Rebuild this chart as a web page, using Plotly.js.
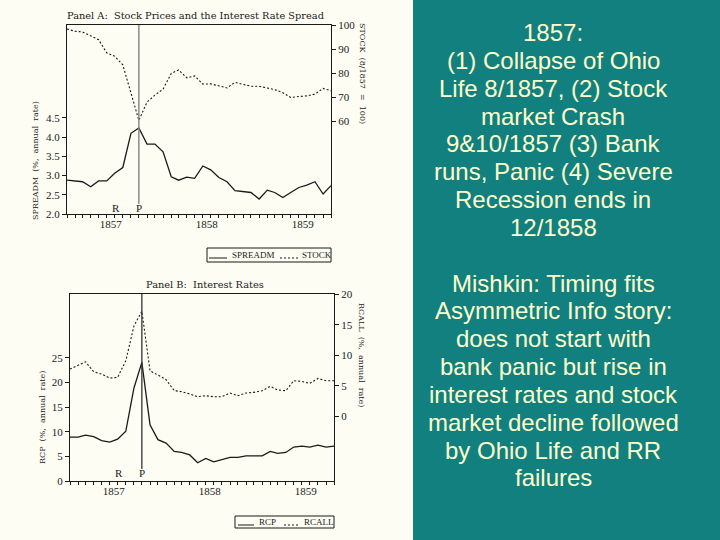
<!DOCTYPE html>
<html>
<head>
<meta charset="utf-8">
<script src="https://cdn.plot.ly/plotly-3.0.1.min.js"></script>
<style>html,body{margin:0;padding:0;background:#fdfdf3;}#chart{width:720px;height:540px;}</style>
</head>
<body>
<div id="chart"></div>
<script>
// ---- data (monthly, Jan 1857 - Oct 1859) ----
const months = ['1857-01-01','1857-02-01','1857-03-01','1857-04-01','1857-05-01','1857-06-01',
  '1857-07-01','1857-08-01','1857-09-01','1857-10-01','1857-11-01','1857-12-01',
  '1858-01-01','1858-02-01','1858-03-01','1858-04-01','1858-05-01','1858-06-01',
  '1858-07-01','1858-08-01','1858-09-01','1858-10-01','1858-11-01','1858-12-01',
  '1859-01-01','1859-02-01','1859-03-01','1859-04-01','1859-05-01','1859-06-01',
  '1859-07-01','1859-08-01','1859-09-01','1859-10-01'];
const spreadm = [2.88,2.86,2.84,2.71,2.86,2.86,3.06,3.21,4.10,4.24,3.82,3.82,3.62,2.97,2.88,2.96,
  2.93,3.25,3.15,2.95,2.84,2.61,2.58,2.56,2.39,2.62,2.56,2.43,2.56,2.69,2.75,2.84,2.52,2.74];
const stock = [98.3,97.4,97.1,95.6,93.9,88.4,87.0,83.4,72.0,60.3,67.9,70.8,73.3,79.8,81.3,78.0,
  78.8,75.4,75.5,74.5,73.8,76.1,75.4,74.5,74.5,73.7,73.1,71.8,69.8,70.2,70.5,71.2,73.6,72.6];
const rcp = [8.9,8.9,9.3,9.0,8.2,7.9,8.5,10.1,18.9,24.1,11.4,8.4,7.7,6.0,5.8,5.3,3.7,4.6,3.9,4.3,
  4.8,4.8,5.1,5.1,5.1,6.0,5.6,5.8,6.9,7.1,6.9,7.3,6.9,7.1];
const rcall = [7.75,8.4,8.94,7.32,6.94,6.29,6.4,9.1,14.8,17.2,7.48,6.78,6.02,4.23,4.07,3.69,3.25,
  3.41,3.25,3.25,3.85,3.41,3.85,3.96,4.23,4.93,4.34,4.23,5.85,5.75,5.42,6.23,5.85,5.85];
const yearTicks = ['1857-06-16','1858-06-16','1859-06-16'];
const yearLabels = ['1857','1858','1859'];
const spreadTicks = [2.0,2.5,3.0,3.5,4.0,4.5];
const stockTicks = [60,70,80,90,100];
const rcpTicks = [0,5,10,15,20,25];
const rcallTicks = [0,5,10,15,20];
const panicMonth = '1857-10-01';
const recessionMonth = '1857-07-06';
const noteLines = ['1857:','(1) Collapse of Ohio','Life 8/1857, (2) Stock','market Crash',
  '9&10/1857 (3) Bank','runs, Panic (4) Severe','Recession ends in','12/1858','',
  'Mishkin: Timing fits','Asymmetric Info story:','does not start with','bank panic but rise in',
  'interest rates and stock','market decline followed','by Ohio Life and RR','failures'];

// ---- helpers ----
const W = 720, H = 540;
const px = v => v / W, py = v => 1 - v / H;
const ink = '#1a1a1a';
const serif = 'Liberation Serif, Times New Roman, serif';
const tfont = {family: serif, size: 11, color: ink};

function xAxis(dom, anchor) {
  return {domain: dom, anchor: anchor, type: 'date', range: ['1857-01-01', '1859-10-01'],
    showline: true, mirror: true, linecolor: ink, linewidth: 1, showgrid: false, zeroline: false,
    tickmode: 'array', tickvals: yearTicks, ticktext: yearLabels, ticks: '', tickfont: tfont,
    minor: {ticks: 'outside', ticklen: 3, tickcolor: ink, dtick: 'M1', tick0: '1857-01-01', showgrid: false}};
}
function yAxis(dom, anchor, range, vals, fmt, side, over) {
  const a = {domain: dom, anchor: anchor, range: range, tickmode: 'array', tickvals: vals,
    ticktext: vals.map(v => fmt ? v.toFixed(1) : String(v)), ticks: 'outside', ticklen: 4,
    tickcolor: ink, showline: true, linecolor: ink, linewidth: 1, showgrid: false,
    zeroline: false, tickfont: tfont, side: side};
  if (over) a.overlaying = over;
  return a;
}

const solid = {color: ink, width: 1.3};
const dotted = {color: ink, width: 1.1, dash: '2px,2px'};
const traces = [
  {x: months, y: spreadm, xaxis: 'x', yaxis: 'y', mode: 'lines', line: solid, name: 'SPREADM'},
  {x: months, y: stock, xaxis: 'x', yaxis: 'y2', mode: 'lines', line: dotted, name: 'STOCK'},
  {x: months, y: rcp, xaxis: 'x2', yaxis: 'y3', mode: 'lines', line: solid, name: 'RCP'},
  {x: months, y: rcall, xaxis: 'x2', yaxis: 'y4', mode: 'lines', line: dotted, name: 'RCALL'}
];

const shapes = [
  {type: 'rect', xref: 'paper', yref: 'paper', x0: px(413), x1: 1, y0: 0, y1: 1,
    fillcolor: '#11807f', line: {width: 0}},
  {type: 'line', xref: 'x', yref: 'paper', x0: panicMonth, x1: panicMonth, y0: py(204), y1: py(25),
    line: {color: '#8a8a8a', width: 1.5}},
  {type: 'line', xref: 'x2', yref: 'paper', x0: panicMonth, x1: panicMonth, y0: py(469), y1: py(294),
    line: {color: '#333', width: 1.3}},
  // legend boxes
  {type: 'rect', xref: 'paper', yref: 'paper', x0: px(207), x1: px(331), y0: py(262), y1: py(248),
    line: {color: ink, width: 1}},
  {type: 'line', xref: 'paper', yref: 'paper', x0: px(209), x1: px(227), y0: py(258), y1: py(258),
    line: {color: ink, width: 1}},
  {type: 'line', xref: 'paper', yref: 'paper', x0: px(280), x1: px(298), y0: py(258), y1: py(258),
    line: {color: ink, width: 1, dash: '2px,2px'}},
  {type: 'rect', xref: 'paper', yref: 'paper', x0: px(235), x1: px(334), y0: py(528), y1: py(516),
    line: {color: ink, width: 1}},
  {type: 'line', xref: 'paper', yref: 'paper', x0: px(238), x1: px(254), y0: py(525), y1: py(525),
    line: {color: ink, width: 1}},
  {type: 'line', xref: 'paper', yref: 'paper', x0: px(284), x1: px(300), y0: py(525), y1: py(525),
    line: {color: ink, width: 1, dash: '2px,2px'}}
];

const titleFont = {family: 'DejaVu Serif, serif', size: 9.8, color: ink};
const axFont = {family: 'DejaVu Serif, serif', size: 8, color: ink};
const legFont = {family: serif, size: 9, color: ink};
function ann(text, x, y, font, extra) {
  return Object.assign({text: text, xref: 'paper', yref: 'paper', x: px(x), y: py(y),
    showarrow: false, font: font, xanchor: 'center', yanchor: 'middle'}, extra || {});
}
const annotations = [
  ann('Panel A:  Stock Prices and the Interest Rate Spread', 195, 15, titleFont),
  ann('Panel B:  Interest Rates', 205, 284, titleFont),
  ann('SPREADM  (%,  annual  rate)', 35, 161, axFont, {textangle: -90}),
  ann('STOCK  (8/1857  =  100)', 363, 73, axFont, {textangle: 90}),
  ann('RCP  (%,  annual  rate)', 42, 418, axFont, {textangle: -90}),
  ann('RCALL  (%,  annual  rate)', 362, 355, axFont, {textangle: 90}),
  {text: 'R', xref: 'x', yref: 'paper', x: recessionMonth, y: py(208), showarrow: false, font: tfont, yanchor: 'middle'},
  {text: 'P', xref: 'x', yref: 'paper', x: panicMonth, y: py(208), showarrow: false, font: tfont, yanchor: 'middle'},
  {text: 'R', xref: 'x2', yref: 'paper', x: recessionMonth, y: py(473), showarrow: false, font: tfont, yanchor: 'middle'},
  {text: 'P', xref: 'x2', yref: 'paper', x: panicMonth, y: py(473), showarrow: false, font: tfont, yanchor: 'middle'},
  ann('SPREADM', 230, 255, legFont, {xanchor: 'left'}),
  ann('STOCK', 300, 255, legFont, {xanchor: 'left'}),
  ann('RCP', 257, 522, legFont, {xanchor: 'left'}),
  ann('RCALL', 302, 522, legFont, {xanchor: 'left'})
];
const noteFont = {family: 'Liberation Sans, Arial, sans-serif', size: 24, color: '#ffffcc'};
noteLines.forEach((t, i) => {
  if (t) annotations.push(ann(t, 553, 32.5 + i * 27.84, noteFont));
});

const layout = {
  width: W, height: H, margin: {l: 0, r: 0, t: 0, b: 0},
  paper_bgcolor: '#fdfdf3', plot_bgcolor: 'rgba(0,0,0,0)', showlegend: false,
  xaxis: xAxis([px(67), px(331)], 'y'),
  yaxis: yAxis([py(214), py(25)], 'x', [2.0, 6.92], spreadTicks, true, 'left'),
  yaxis2: yAxis([py(214), py(25)], 'x', [21.3, 100], stockTicks, false, 'right', 'y'),
  xaxis2: xAxis([px(70), px(334)], 'y3'),
  yaxis3: yAxis([py(481), py(294)], 'x2', [0, 38], rcpTicks, false, 'left'),
  yaxis4: yAxis([py(481), py(294)], 'x2', [-10.5, 20], rcallTicks, false, 'right', 'y3'),
  shapes: shapes, annotations: annotations
};
Plotly.newPlot('chart', traces, layout, {staticPlot: true, displayModeBar: false});
</script>
</body>
</html>
